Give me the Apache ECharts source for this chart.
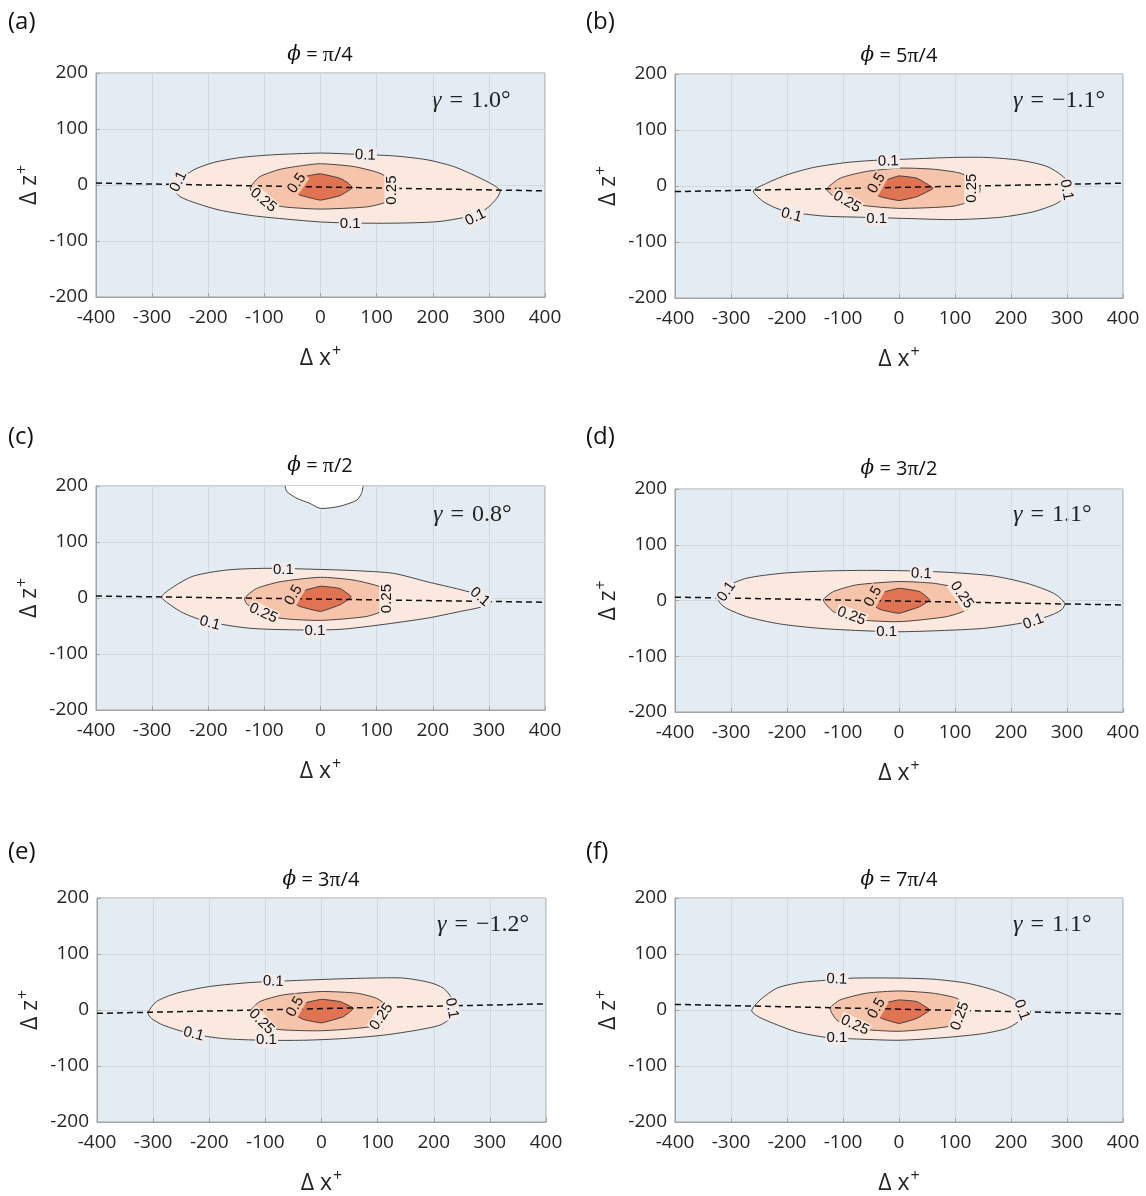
<!DOCTYPE html>
<html><head><meta charset="utf-8">
<script src="https://cdn.jsdelivr.net/npm/echarts@6/dist/echarts.min.js"></script>
<style>html,body{margin:0;padding:0;background:#fff}#c{width:1146px;height:1196px}</style>
</head><body><div id="c"></div>
<script>
// ---------- data (x = Δx+, z = Δz+) ----------
const panelLetters = ['(a)','(b)','(c)','(d)','(e)','(f)'];
const phiLabels = ['π/4','5π/4','π/2','3π/2','3π/4','7π/4'];
const gammaLabels = ['1.0','−1.1','0.8','1.1','−1.2','1.1'];
const contourLevels = ['0.1','0.25','0.5'];

const a_c10 = [[-259,-9],[-250,9],[-226,27],[-191,40],[-143,49],[-84,54],[0,57],[59,55],[130,52],[190,45],[237,33],[279,15],[308,0],[320,-10],[314,-24],[296,-42],[273,-54],[213,-65],[142,-68],[59,-68],[0,-66],[-60,-61],[-119,-55],[-179,-45],[-220,-33],[-250,-21]];
const a_c25 = [[-125,-4],[-108,15],[-72,28],[-30,35],[0,38],[59,33],[106,21],[130,5],[136,-10],[118,-30],[83,-39],[0,-43],[-66,-39],[-102,-30],[-122,-15]];
const a_c50 = [[-51,-5],[-40,6],[-31,14],[-15,18],[0,20],[35,12],[50,3],[57,-5],[45,-13],[35,-19],[0,-27],[-37,-18],[-46,-11]];
const a_line = [[-400,3.5],[400,-10.5]];
const a_labels = [[80,53,'0.1',-2],[53,-69,'0.1',0],[-253,6,'0.1',65],[276,-58,'0.1',25],[-102,-27,'0.25',-40],[127,-9,'0.25',90],[-42,3,'0.5',55]];

const b_c10 = [[-260,-9],[-236,5],[-200,20],[-153,33],[-93,42],[-40,46],[14,48],[97,51],[157,51],[216,46],[264,35],[293,17],[305,-1],[299,-16],[282,-31],[240,-46],[180,-56],[97,-60],[14,-58],[-58,-56],[-129,-54],[-177,-49],[-213,-42],[-242,-28]];
const b_c25 = [[-129,-6],[-105,14],[-58,26],[2,32],[61,30],[109,23],[139,8],[145,-7],[133,-25],[97,-36],[2,-40],[-70,-34],[-111,-22]];
const b_c50 = [[-52,-7],[-22,11],[0,18],[32,14],[61,-4],[32,-19],[0,-26],[-34,-19]];
const b_line = [[-400,-10],[400,5]];
const b_labels = [[-19,44,'0.1',2],[-40,-58,'0.1',0],[-192,-52,'0.1',-15],[299,-7,'0.1',-80],[-93,-28,'0.25',-30],[130,-4,'0.25',90],[-40,5,'0.5',60]];

const c_c10 = [[-283,2],[-262,20],[-227,39],[-167,50],[-96,53],[0,51],[59,49],[130,44],[190,29],[249,15],[284,5],[302,-5],[290,-15],[249,-24],[190,-36],[106,-48],[35,-56],[-37,-57],[-126,-54],[-203,-42],[-244,-27],[-268,-12]];
const c_c25 = [[-135,0],[-114,17],[-72,29],[0,37],[59,32],[106,20],[121,5],[122,-5],[115,-21],[82,-33],[0,-40],[-72,-36],[-114,-21],[-132,-10]];
const c_c50 = [[-60,-1],[-37,11],[0,21],[35,17],[55,2],[35,-12],[0,-24],[-37,-15]];
const c_white = [[-63,200],[-60,190],[-42,178],[-19,169],[0,160],[35,164],[65,175],[73,187],[76,200]];
const c_line = [[-400,3.5],[400,-7.5]];
const c_labels = [[-66,51,'0.1',0],[-10,-58,'0.1',0],[-197,-45,'0.1',-15],[284,2,'0.1',-40],[-102,-27,'0.25',-25],[118,-1,'0.25',90],[-48,5,'0.5',60]];

const d_c10 = [[-323,7],[-308,25],[-272,40],[-207,49],[-129,53],[-58,54],[26,53],[97,50],[168,44],[228,31],[276,13],[296,-5],[290,-17],[264,-29],[216,-41],[151,-50],[73,-54],[2,-56],[-70,-54],[-141,-50],[-213,-42],[-272,-29],[-308,-14],[-320,-4]];
const d_c25 = [[-135,1],[-117,16],[-76,28],[0,34],[61,31],[103,23],[121,13],[130,-5],[121,-17],[85,-29],[0,-38],[-76,-34],[-117,-20]];
const d_c50 = [[-58,1],[-34,13],[0,22],[37,16],[55,1],[37,-11],[0,-23],[-34,-16]];
const d_line = [[-400,6],[400,-8]];
const d_labels = [[40,48,'0.1',-2],[-22,-56,'0.1',0],[-308,16,'0.1',55],[240,-38,'0.1',20],[-85,-28,'0.25',-20],[112,10,'0.25',-55],[-46,7,'0.5',60]];

const e_c10 = [[-309,-5],[-294,15],[-258,30],[-199,42],[-127,49],[-62,52],[15,55],[86,57],[146,57],[193,49],[217,39],[232,21],[235,0],[229,-15],[211,-27],[170,-36],[110,-45],[39,-51],[-32,-54],[-104,-54],[-175,-51],[-234,-42],[-282,-27],[-303,-15]];
const e_c25 = [[-127,-3],[-110,15],[-68,27],[0,33],[63,30],[98,21],[119,6],[123,-3],[116,-15],[86,-30],[0,-37],[-74,-35],[-116,-24]];
const e_c50 = [[-56,-3],[-32,12],[0,19],[33,15],[57,3],[39,-12],[0,-23],[-32,-17]];
const e_line = [[-400,-6],[400,11]];
const e_labels = [[-86,51,'0.1',-2],[-98,-54,'0.1',0],[-228,-43,'0.1',-15],[232,3,'0.1',-80],[-107,-21,'0.25',-45],[107,-12,'0.25',55],[-47,6,'0.5',60]];

const f_c10 = [[-263,-1],[-248,18],[-218,39],[-177,49],[-117,54],[-82,57],[0,57],[61,55],[121,48],[168,36],[204,21],[219,6],[222,-6],[213,-21],[192,-33],[151,-42],[85,-49],[2,-54],[-70,-52],[-129,-49],[-183,-39],[-224,-24],[-251,-12]];
const f_c25 = [[-123,3],[-105,18],[-58,30],[0,34],[61,30],[103,21],[121,6],[124,-3],[115,-18],[85,-30],[0,-38],[-76,-33],[-111,-18]];
const f_c50 = [[-52,0],[-28,12],[0,18],[32,15],[55,0],[32,-15],[0,-24],[-31,-15]];
const f_line = [[-400,10],[400,-7]];
const f_labels = [[-111,55,'0.1',-2],[-111,-50,'0.1',0],[219,0,'0.1',-70],[-79,-27,'0.25',-25],[109,-11,'0.25',70],[-40,3,'0.5',60]];

// ---------- layout / style ----------
const gridPos = [
  {left:96, top:73, width:449, height:224},
  {left:675, top:74, width:448, height:224},
  {left:96, top:486, width:449, height:224},
  {left:675, top:489, width:448, height:223},
  {left:97, top:898, width:449, height:224},
  {left:675, top:898, width:448, height:224}
];
const letterPos = [[8,22],[586,22],[8,437],[586,437],[8,852],[586,852]];
const titlePos = [[320,55],[899,56],[320,466],[899,469],[321,880],[899,880]];
const gammaPos = [[432,101],[1013,101],[433,515],[1013,515],[437,925],[1013,925]];

const BG = '#e3ecf2', F10 = '#fbe9e0', F25 = '#f6c4ab', F50 = '#e07352';
const labelBg = {'0.1':'#f3ebe9','0.25':'#fbe9e0','0.5':'#f6c4ab'};
const AX = '#a3a3a3', TXT = '#262626';

const panels = [
  {c10:a_c10,c25:a_c25,c50:a_c50,line:a_line,labels:a_labels},
  {c10:b_c10,c25:b_c25,c50:b_c50,line:b_line,labels:b_labels},
  {c10:c_c10,c25:c_c25,c50:c_c50,line:c_line,labels:c_labels,white:c_white},
  {c10:d_c10,c25:d_c25,c50:d_c50,line:d_line,labels:d_labels},
  {c10:e_c10,c25:e_c25,c50:e_c50,line:e_line,labels:e_labels},
  {c10:f_c10,c25:f_c25,c50:f_c50,line:f_line,labels:f_labels}
];

function polySeries(idx, pts, fill, z, open, sm) {
  return {
    type:'custom', coordinateSystem:'cartesian2d', xAxisIndex:idx, yAxisIndex:idx,
    data: pts, encode:{x:0,y:1}, clip:true, silent:true, z:z, animation:false,
    renderItem: function(params, api) {
      if (params.dataIndex !== 0) return null;
      const P = pts.map(p => api.coord(p));
      if (open) {
        return {type:'group', children:[
          {type:'polygon', shape:{points:P, smooth:sm}, style:{fill:fill, stroke:null}},
          {type:'polyline', shape:{points:P, smooth:sm}, style:{fill:null, stroke:'#333', lineWidth:0.9}}
        ]};
      }
      return {type:'polygon', shape:{points:P, smooth:sm}, style:{fill:fill, stroke:'#333', lineWidth:0.9}};
    }
  };
}
function labelSeries(idx, labs) {
  return {
    type:'custom', coordinateSystem:'cartesian2d', xAxisIndex:idx, yAxisIndex:idx,
    data: labs.map(l => [l[0], l[1]]), encode:{x:0,y:1}, silent:true, z:8, animation:false,
    renderItem: function(params, api) {
      const l = labs[params.dataIndex];
      const p = api.coord([l[0], l[1]]);
      return {type:'text', x:p[0], y:p[1], rotation:l[3]*Math.PI/180,
        style:{text:l[2], fill:'#111', font:'15px "Liberation Sans", Arial, sans-serif',
          align:'center', verticalAlign:'middle', backgroundColor:labelBg[l[2]], padding:[0,1]}};
    }
  };
}

const nameRich = {n:{fontSize:23, fontFamily:'Open Sans', color:TXT}, s:{fontSize:16, fontFamily:'Open Sans', color:TXT, verticalAlign:'top', padding:[0,0,14,1]}};
const grids = [], xAxes = [], yAxes = [], series = [], graphics = [];
panels.forEach((pn, i) => {
  grids.push(Object.assign({show:true, backgroundColor:BG, borderColor:AX, borderWidth:1, containLabel:false}, gridPos[i]));
  xAxes.push({
    type:'value', gridIndex:i, min:-400, max:400, interval:100,
    name:'{n|Δ x}{s|+}', nameLocation:'middle', nameGap:46,
    nameTextStyle:{color:TXT, fontFamily:'Open Sans', fontSize:23, rich:nameRich},
    axisLine:{show:true, onZero:false, lineStyle:{color:AX}},
    axisTick:{show:true, inside:true, length:4, lineStyle:{color:AX}},
    splitLine:{show:true, lineStyle:{color:'#d1d9de', width:1}},
    axisLabel:{color:TXT, fontFamily:'Open Sans', fontSize:19, margin:11}
  });
  yAxes.push({
    type:'value', gridIndex:i, min:-200, max:200, interval:100,
    name:'{n|Δ z}{s|+}', nameLocation:'middle', nameGap:52, nameRotate:90,
    nameTextStyle:{color:TXT, fontFamily:'Open Sans', fontSize:23, rich:nameRich},
    axisLine:{show:true, onZero:false, lineStyle:{color:AX}},
    axisTick:{show:true, inside:true, length:4, lineStyle:{color:AX}},
    splitLine:{show:true, lineStyle:{color:'#d1d9de', width:1}},
    axisLabel:{color:TXT, fontFamily:'Open Sans', fontSize:19, margin:8}
  });
  series.push(polySeries(i, pn.c10, F10, 2, false, 0.25));
  series.push(polySeries(i, pn.c25, F25, 3, false, 0.2));
  series.push(polySeries(i, pn.c50, F50, 4, false, 0.1));
  if (pn.white) series.push(polySeries(i, pn.white, '#ffffff', 2, true, 0.25));
  series.push({
    type:'line', xAxisIndex:i, yAxisIndex:i, data:pn.line, symbol:'none', z:6, silent:true, animation:false,
    lineStyle:{color:'#111', width:1.5, type:[6,4]}
  });
  series.push(labelSeries(i, pn.labels));

  graphics.push({type:'text', x:letterPos[i][0], y:letterPos[i][1],
    style:{text:panelLetters[i], font:'24px "Open Sans", sans-serif', fill:'#111', verticalAlign:'middle', align:'left'}});
  const parts = phiLabels[i].split('π');
  graphics.push({type:'text', x:titlePos[i][0], y:titlePos[i][1],
    style:{text:'{p|ϕ} = ' + parts[0] + '{q|π}' + parts[1], align:'center', verticalAlign:'middle',
      font:'20px "Open Sans", sans-serif', fill:'#111',
      rich:{p:{fontFamily:'DejaVu Serif', fontStyle:'italic', fontSize:20, fill:'#111'}, q:{fontFamily:'Liberation Serif', fontSize:22, fill:'#111'}}}});
  graphics.push({type:'text', x:gammaPos[i][0], y:gammaPos[i][1],
    style:{text:'{g|γ}\u200a = \u200a' + gammaLabels[i] + '°', align:'left', verticalAlign:'middle',
      font:'24px "Liberation Serif", serif', fill:'#222',
      rich:{g:{fontFamily:'Liberation Serif', fontStyle:'italic', fontSize:24, fill:'#222'}}}});
});

const chart = echarts.init(document.getElementById('c'), null, {renderer:'canvas'});
chart.setOption({animation:false, grid:grids, xAxis:xAxes, yAxis:yAxes, series:series, graphic:graphics});
</script></body></html>
